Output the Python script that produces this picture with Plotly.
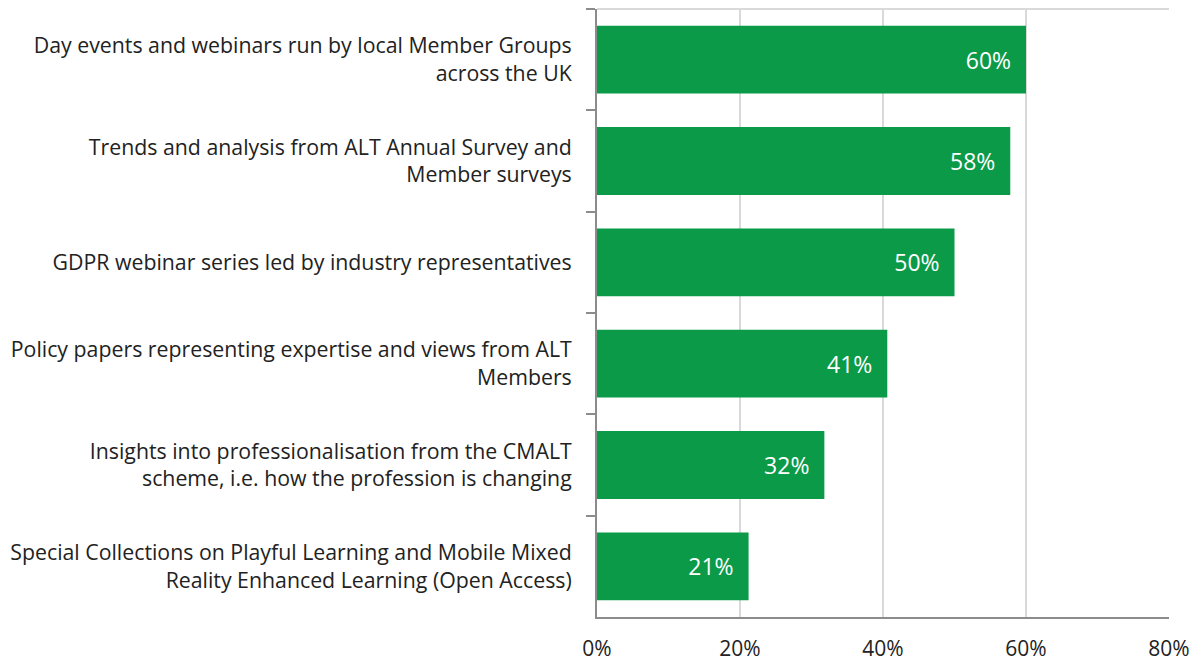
import plotly.graph_objects as go

categories = [
    "Day events and webinars run by local Member Groups<br>across the UK",
    "Trends and analysis from ALT Annual Survey and<br>Member surveys",
    "GDPR webinar series led by industry representatives",
    "Policy papers representing expertise and views from ALT<br>Members",
    "Insights into professionalisation from the CMALT<br>scheme, i.e. how the profession is changing",
    "Special Collections on Playful Learning and Mobile Mixed<br>Reality Enhanced Learning (Open Access)",
]
values = [60.0, 57.8, 50.0, 40.6, 31.8, 21.2]
labels = ["60%", "58%", "50%", "41%", "32%", "21%"]
x_ticks = [0, 20, 40, 60, 80]
x_ticklabels = ["0%", "20%", "40%", "60%", "80%"]

FONT = "Open Sans"
GREEN = "#0a9a48"

fig = go.Figure(go.Bar(
    y=categories, x=values, orientation="h",
    marker=dict(color=GREEN, line=dict(width=0)),
    text=[l + "\u00a0\u00a0" for l in labels],
    textposition="inside", insidetextanchor="end",
    textfont=dict(family=FONT, size=23, color="white"),
    cliponaxis=False,
))

fig.update_layout(
    width=1200, height=661,
    margin=dict(l=597, r=31, t=9, b=44, autoexpand=False),
    paper_bgcolor="white", plot_bgcolor="white",
    bargap=0.33,
    showlegend=False,
    font=dict(family=FONT, size=21.3, color="#222222"),
    uniformtext=dict(mode=False),
    shapes=[dict(type="line", xref="paper", yref="paper", x0=0, x1=1, y0=1, y1=1,
                 line=dict(color="#d9d9d9", width=2))],
)
fig.update_xaxes(
    range=[0, 80], tickvals=x_ticks, ticktext=x_ticklabels,
    showgrid=True, gridcolor="#d9d9d9", gridwidth=2,
    showline=True, linecolor="#8c8c8c", linewidth=2,
    ticks="", ticklabelstandoff=12, zeroline=False, automargin=False,
    tickfont=dict(family=FONT, size=21, color="#222222"),
)
fig.update_yaxes(
    autorange="reversed", tickson="boundaries",
    ticks="outside", ticklen=9, tickcolor="#8c8c8c", tickwidth=2,
    showline=True, linecolor="#8c8c8c", linewidth=2,
    showgrid=False, ticklabelstandoff=19, automargin=False,
    tickfont=dict(family=FONT, size=21.3, color="#222222"),
)

fig.write_html(
    "out.html",
    config={"displayModeBar": False},
    post_script="document.body.style.margin='0';document.body.style.overflow='hidden';",
)
